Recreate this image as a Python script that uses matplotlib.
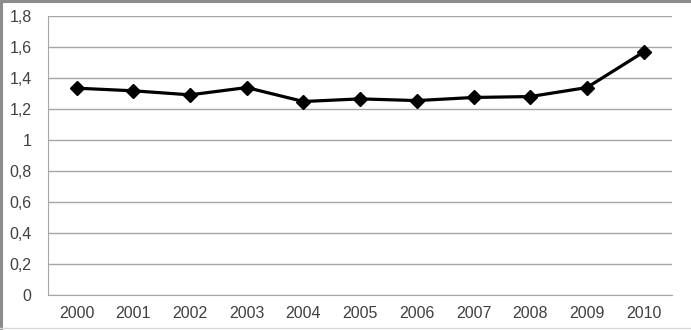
import numpy as np
import matplotlib
matplotlib.use("Agg")
import matplotlib.pyplot as plt
from matplotlib.ticker import FuncFormatter
from matplotlib.lines import Line2D

years = ['2000', '2001', '2002', '2003', '2004', '2005', '2006', '2007', '2008', '2009', '2010']
values = [1.335, 1.318, 1.292, 1.339, 1.249, 1.266, 1.255, 1.275, 1.281, 1.339, 1.568]
y_ticks = [0, 0.2, 0.4, 0.6, 0.8, 1.0, 1.2, 1.4, 1.6, 1.8]

plt.rcParams['font.family'] = ['Liberation Sans', 'DejaVu Sans']

fig = plt.figure(figsize=(6.91, 3.30), dpi=100)
ax = fig.add_axes([0.0699, 0.105, 0.9026, 0.8465])

x = np.arange(len(years))
ax.plot(x, values, color='black', linewidth=2.3, marker='D', markersize=7.5, zorder=3)

ax.set_xlim(-0.5, len(years) - 0.5)
ax.set_ylim(0, 1.8)
ax.set_yticks(y_ticks)
ax.yaxis.set_major_formatter(FuncFormatter(lambda v, p: f"{v:g}".replace('.', ',')))
ax.set_xticks(x)
ax.set_xticklabels(years)

ax.grid(axis='y', color='#a6a6a6', linewidth=1)
ax.set_axisbelow(True)
for s in ['top', 'right']:
    ax.spines[s].set_visible(False)
ax.spines['left'].set_color('#a6a6a6')
ax.spines['bottom'].set_color('#a6a6a6')
ax.tick_params(axis='both', length=0, labelsize=11.5, colors='#404040')
ax.tick_params(axis='y', pad=12)
ax.tick_params(axis='x', pad=8)

# ramka wykresu: ciemna z lewej i u gory, jasna na dole
fig.add_artist(Line2D([0.002, 0.002], [0, 1], transform=fig.transFigure, color='#8c8c8c', linewidth=2.2))
fig.add_artist(Line2D([0, 1], [0.996, 0.996], transform=fig.transFigure, color='#8c8c8c', linewidth=2.2))
fig.add_artist(Line2D([0, 1], [0.006, 0.006], transform=fig.transFigure, color='#d9d9d9', linewidth=1))

fig.savefig('out.png', dpi=100)
